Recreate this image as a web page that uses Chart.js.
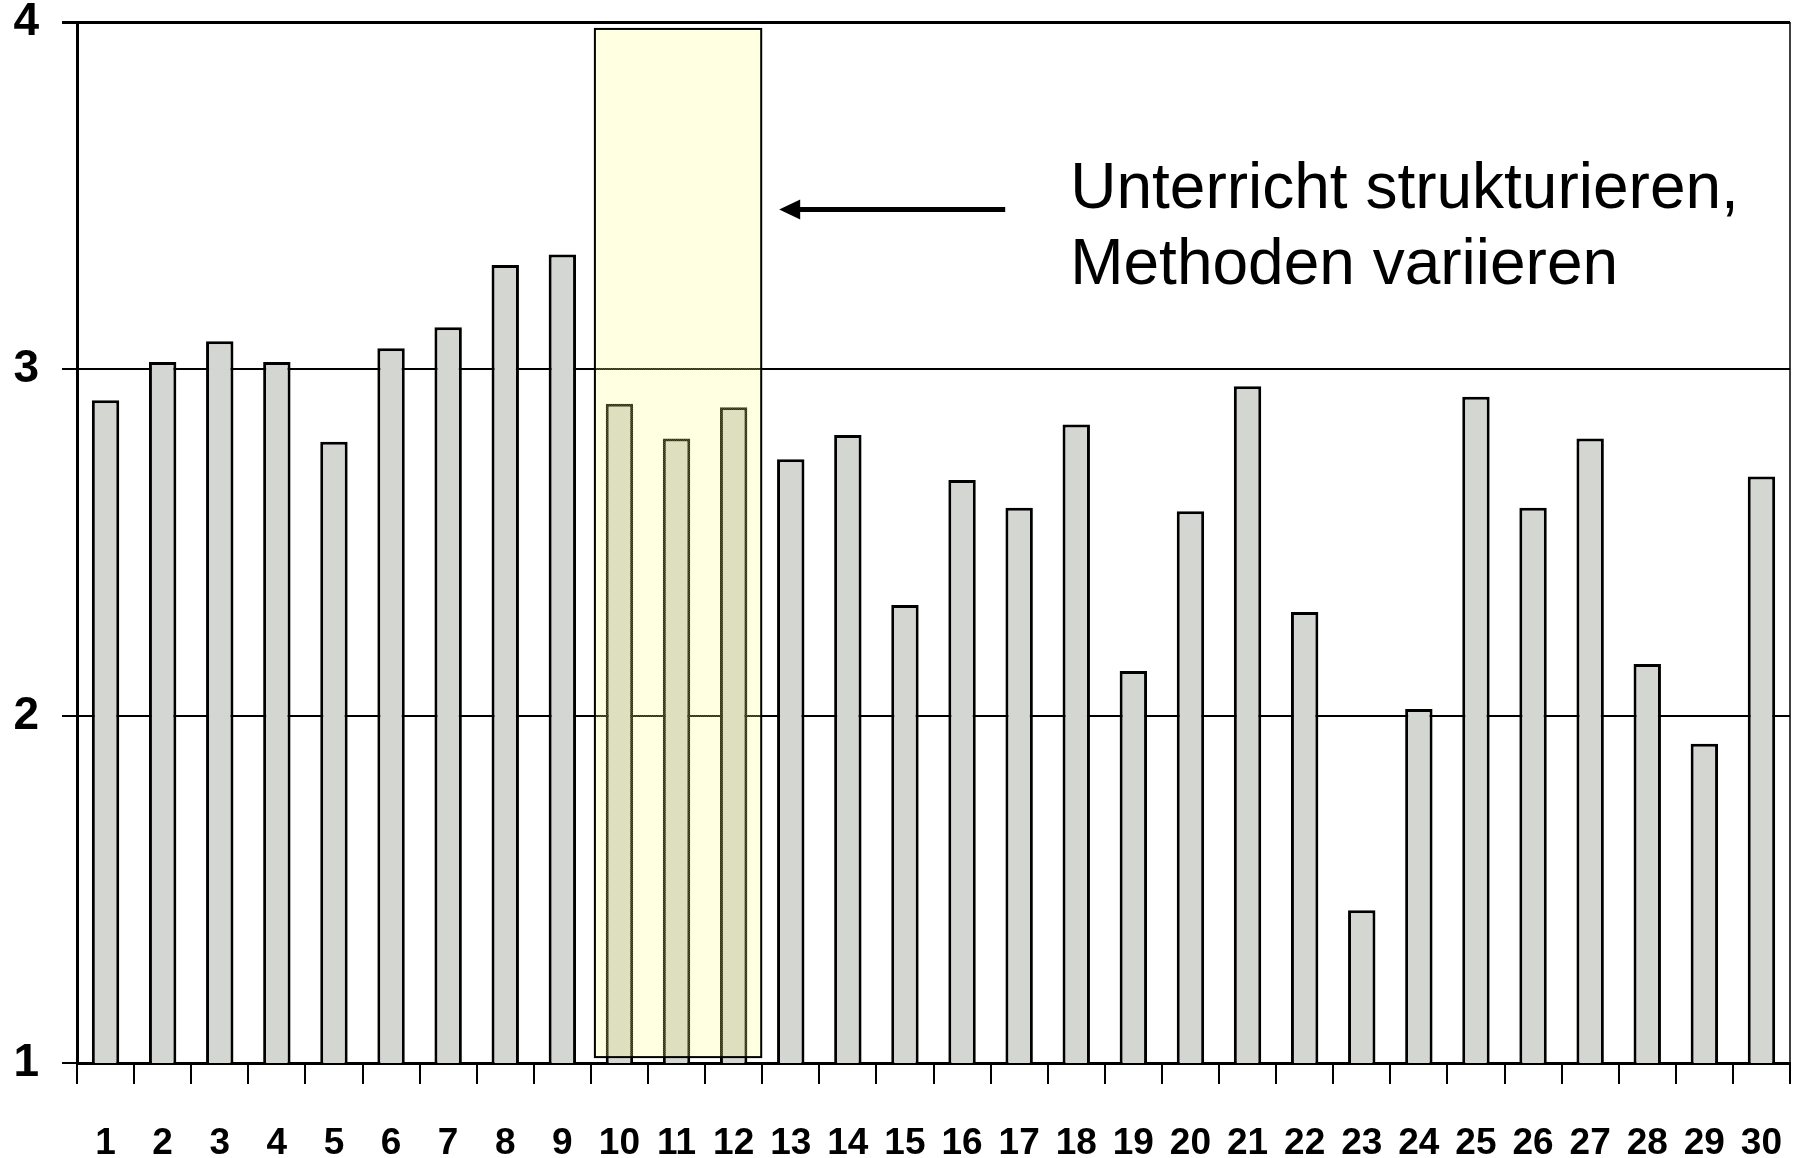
<!DOCTYPE html>
<html>
<head>
<meta charset="utf-8">
<script src="https://cdn.jsdelivr.net/npm/chart.js@4/dist/chart.umd.min.js"></script>
<style>
  html, body { margin: 0; padding: 0; background: #ffffff; }
  #wrap { width: 1798px; height: 1158px; }
</style>
</head>
<body>
<div id="wrap"><canvas id="c"></canvas></div>
<script>
// Item numbers along the x axis
const categories = ['1','2','3','4','5','6','7','8','9','10',
                    '11','12','13','14','15','16','17','18','19','20',
                    '21','22','23','24','25','26','27','28','29','30'];

// Mean rating per item
const values = [2.91, 3.02, 3.08, 3.02, 2.79, 3.06, 3.12, 3.30, 3.33, 2.90,
                2.80, 2.89, 2.74, 2.81, 2.32, 2.68, 2.60, 2.84, 2.13, 2.59,
                2.95, 2.30, 1.44, 2.02, 2.92, 2.60, 2.80, 2.15, 1.92, 2.69];

// Value axis ticks
const yTicks = [1, 2, 3, 4];

// Items grouped by the highlighted band, and the note pointing at them
const highlightItems = ['10', '11', '12'];
const noteLines = ['Unterricht strukturieren,', 'Methoden variieren'];

const FONT = '"Liberation Sans", Arial, Helvetica, sans-serif';

// Pale yellow dithered fill for the highlighted band
function makeBandPattern(ctx) {
  const pc = document.createElement('canvas');
  pc.width = 2; pc.height = 2;
  const g = pc.getContext('2d');
  g.fillStyle = 'rgba(255,255,200,0.18)';
  g.fillRect(0, 0, 2, 2);
  g.fillStyle = 'rgba(240,240,120,0.18)';
  g.fillRect(0, 0, 1, 1);
  g.fillRect(1, 1, 1, 1);
  return ctx.createPattern(pc, 'repeat');
}

const annotationPlugin = {
  id: 'bandAndNote',
  afterDatasetsDraw(chart) {
    const { ctx, chartArea, scales: { x, y } } = chart;
    const catW = (x.right - x.left) / categories.length;
    const i0 = categories.indexOf(highlightItems[0]);
    const i1 = categories.indexOf(highlightItems[highlightItems.length - 1]);

    // highlighted band over items 10-12
    const left = x.getPixelForValue(i0) - catW / 2 + 4;
    const right = x.getPixelForValue(i1) + catW / 2 - 1;
    const top = y.getPixelForValue(3.98);
    const bottom = y.getPixelForValue(1.017);
    ctx.save();
    ctx.fillStyle = makeBandPattern(ctx);
    ctx.fillRect(left, top, right - left, bottom - top);
    ctx.strokeStyle = '#000';
    ctx.lineWidth = 2;
    ctx.strokeRect(left, top, right - left, bottom - top);

    // right frame line of the plot
    ctx.lineWidth = 1.5;
    ctx.beginPath();
    ctx.moveTo(chartArea.right, chartArea.top);
    ctx.lineTo(chartArea.right, chartArea.bottom);
    ctx.stroke();

    // arrow pointing left at the band
    const ay = y.getPixelForValue(3.46);
    const tipX = right + 18;
    const tailX = tipX + 226;
    ctx.lineWidth = 5;
    ctx.beginPath();
    ctx.moveTo(tailX, ay);
    ctx.lineTo(tipX + 16, ay);
    ctx.stroke();
    ctx.fillStyle = '#000';
    ctx.beginPath();
    ctx.moveTo(tipX, ay);
    ctx.lineTo(tipX + 21, ay - 10);
    ctx.lineTo(tipX + 21, ay + 10);
    ctx.closePath();
    ctx.fill();

    // note text
    ctx.font = '64px ' + FONT;
    ctx.textAlign = 'left';
    ctx.textBaseline = 'alphabetic';
    const tx = tailX + 65;
    ctx.fillText(noteLines[0], tx, ay - 1);
    ctx.fillText(noteLines[1], tx, ay + 75);
    ctx.restore();
  }
};

new Chart(document.getElementById('c'), {
  type: 'bar',
  data: {
    labels: categories,
    datasets: [{
      data: values,
      backgroundColor: '#D4D6D1',
      borderColor: '#000000',
      borderWidth: 3,
      barPercentage: 0.48,
      categoryPercentage: 1.0
    }]
  },
  options: {
    responsive: true,
    maintainAspectRatio: false,
    animation: false,
    layout: { padding: { top: 22, right: 8, left: 0, bottom: 0 } },
    plugins: { legend: { display: false }, tooltip: { enabled: false } },
    scales: {
      x: {
        offset: true,
        grid: {
          offset: true,
          drawOnChartArea: false,
          drawTicks: true,
          tickLength: 21,
          color: '#000',
          lineWidth: 2
        },
        border: { display: true, color: '#000', width: 3 },
        ticks: {
          autoSkip: false,
          maxRotation: 0,
          color: '#000',
          padding: 38,
          font: { family: FONT, size: 37, weight: 'bold' }
        },
        afterFit(scale) {
          scale.height = 95;
          scale.paddingLeft = 0;
          scale.paddingRight = 0;
        }
      },
      y: {
        min: 1,
        max: 4,
        afterBuildTicks(scale) { scale.ticks = yTicks.map(v => ({ value: v })); },
        grid: {
          color: '#000',
          lineWidth: (c) => (c.tick && c.tick.value === 4 ? 3 : 2),
          drawTicks: true,
          tickLength: 15
        },
        border: { display: true, color: '#000', width: 3 },
        ticks: {
          color: '#000',
          padding: 23,
          font: { family: FONT, size: 46, weight: 'bold' }
        },
        afterFit(scale) {
          scale.width = 77;
          scale.paddingTop = 0;
          scale.paddingBottom = 0;
        }
      }
    }
  },
  plugins: [annotationPlugin]
});
</script>
</body>
</html>
